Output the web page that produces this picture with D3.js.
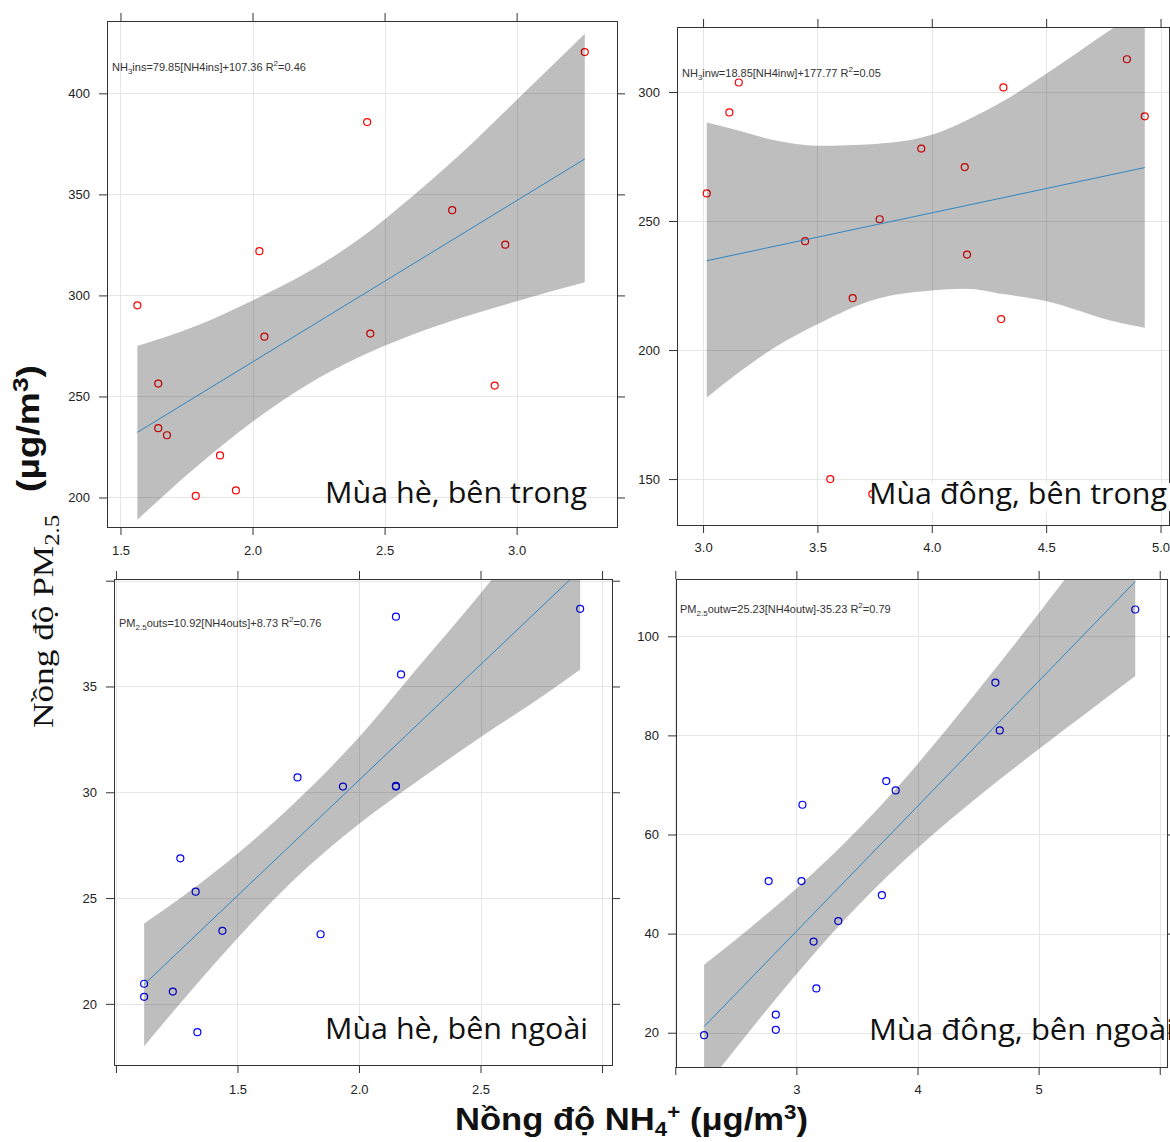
<!DOCTYPE html>
<html>
<head>
<meta charset="utf-8">
<script src="https://d3js.org/d3.v7.min.js"></script>
<style>
  body { margin: 0; background: #fff; }
  svg { display: block; }
  .eq { font-family: "Liberation Sans", Arial, sans-serif; font-size: 11px; fill: #333; }
  .season { font-family: "Open Sans", "Noto Sans", sans-serif; font-size: 30px; fill: #111; }
</style>
</head>
<body>
<div id="chart"></div>
<script>
// ---- panel 1 : summer, indoor ----
var p1X = [1.564, 1.643, 1.643, 1.676, 1.877, 1.785, 1.937, 2.026, 2.045, 2.434, 2.446, 2.756, 2.917, 2.957, 3.258];
var p1Y = [295.1, 256.4, 234.3, 230.8, 220.8, 200.8, 203.5, 321.9, 279.6, 385.8, 281.1, 342.2, 255.4, 325.1, 420.4];
var p1Fit = [79.85, 107.36];
var p1BandX  = [1.564, 1.8, 2.0, 2.198, 2.4, 2.6, 2.8, 3.0, 3.258];
var p1BandLo = [189, 216.6, 237.5, 255.1, 269.3, 280.3, 289.3, 297.1, 306.5];
var p1BandHi = [275, 285.6, 297.5, 310.7, 327.5, 348.5, 371.5, 396.7, 429.5];
var p1XLim = [1.449, 3.38], p1YLim = [185.4, 435.8];
var p1XTicks = [1.5, 2.0, 2.5, 3.0], p1XLabels = ["1.5", "2.0", "2.5", "3.0"];
var p1YTicks = [200, 250, 300, 350, 400], p1YLabels = ["200", "250", "300", "350", "400"];

// ---- panel 2 : winter, indoor ----
var p2X = [3.016, 3.115, 3.156, 3.446, 3.654, 3.772, 3.954, 4.144, 4.154, 4.313, 4.303, 4.853, 4.931, 3.556, 3.74];
var p2Y = [260.7, 292.1, 303.7, 242.2, 220.1, 250.7, 278.1, 270.9, 237.0, 301.8, 212.0, 312.7, 290.6, 150.0, 144.2];
var p2Fit = [18.85, 177.77];
var p2BandX  = [3.016, 3.166, 3.313, 3.5, 3.754, 3.999, 4.149, 4.313, 4.497, 4.784, 4.931];
var p2BandLo = [181.6, 192.0, 201.0, 210.0, 219.7, 223.1, 223.8, 221.7, 219.0, 211.4, 208.6];
var p2BandHi = [288.2, 284.8, 281.3, 279.2, 279.9, 283.4, 288.9, 296.5, 306.9, 324.2, 332.8];
var p2XLim = [2.886, 5.037], p2YLim = [132.2, 325.2];
var p2XTicks = [3.0, 3.5, 4.0, 4.5, 5.0], p2XLabels = ["3.0", "3.5", "4.0", "4.5", "5.0"];
var p2YTicks = [150, 200, 250, 300], p2YLabels = ["150", "200", "250", "300"];

// ---- panel 3 : summer, outdoor ----
var p3X = [1.116, 1.116, 1.234, 1.335, 1.265, 1.328, 1.438, 1.747, 1.842, 1.934, 2.152, 2.152, 2.152, 2.173, 2.91];
var p3Y = [20.95, 20.33, 20.58, 18.66, 26.88, 25.30, 23.45, 30.70, 23.29, 30.27, 30.30, 30.27, 38.30, 35.57, 38.67];
var p3Fit = [10.92, 8.73];
var p3BandX  = [1.116, 1.3, 1.5, 1.726, 2.0, 2.25, 2.5, 2.75, 2.91];
var p3BandLo = [18.0, 20.5, 23.1, 25.8, 28.5, 30.6, 32.6, 34.5, 35.8];
var p3BandHi = [23.8, 25.3, 27.1, 29.4, 32.6, 36.0, 39.4, 43.0, 45.2];
var p3XLim = [0.992, 3.041], p3YLim = [17.11, 40.08];
var p3XTicks = [1.0, 1.5, 2.0, 2.5, 3.0], p3XLabels = ["", "1.5", "2.0", "2.5", ""];
var p3YTicks = [20, 25, 30, 35, 40], p3YLabels = ["20", "25", "30", "35", ""];

// ---- panel 4 : winter, outdoor ----
var p4X = [2.238, 2.83, 2.83, 2.771, 3.042, 3.05, 3.142, 3.165, 3.346, 3.706, 3.742, 3.82, 4.643, 4.679, 5.798];
var p4Y = [19.5, 23.65, 20.58, 50.6, 50.6, 66.0, 38.4, 28.94, 42.53, 47.75, 70.78, 68.9, 90.66, 81.0, 105.4];
var p4Fit = [25.23, -35.23];
var p4BandX  = [2.238, 2.6, 3.0, 3.52, 4.0, 4.5, 5.0, 5.4, 5.798];
var p4BandLo = [8.7, 19.9, 31.8, 45.9, 57.2, 67.6, 77.2, 84.6, 92.0];
var p4BandHi = [33.7, 40.8, 49.1, 61.3, 74.2, 89.1, 104.6, 117.4, 130.2];
var p4XLim = [2.006, 6.06], p4YLim = [13.08, 111.56];
var p4XTicks = [2, 3, 4, 5, 6], p4XLabels = ["", "3", "4", "5", ""];
var p4YTicks = [20, 40, 60, 80, 100], p4YLabels = ["20", "40", "60", "80", "100"];

var svg = d3.select("#chart").append("svg")
    .attr("width", 1170)
    .attr("height", 1142);

function drawPanel(p) {
    var x = d3.scaleLinear().domain(p.xLim).range([p.left, p.right]);
    var y = d3.scaleLinear().domain(p.yLim).range([p.bottom, p.top]);
    var g = svg.append("g");

    svg.append("clipPath").attr("id", "clip" + p.id)
        .append("rect")
        .attr("x", p.left).attr("y", p.top)
        .attr("width", p.right - p.left).attr("height", p.bottom - p.top);

    // grid
    g.selectAll(".gx").data(p.xTicks).enter().append("line")
        .attr("x1", function(d){ return Math.round(x(d)) + 0.5; })
        .attr("x2", function(d){ return Math.round(x(d)) + 0.5; })
        .attr("y1", p.top).attr("y2", p.bottom)
        .style("stroke", "#e6e6e6");
    g.selectAll(".gy").data(p.yTicks).enter().append("line")
        .attr("y1", function(d){ return Math.round(y(d)) + 0.5; })
        .attr("y2", function(d){ return Math.round(y(d)) + 0.5; })
        .attr("x1", p.left).attr("x2", p.right)
        .style("stroke", "#e6e6e6");

    var inner = g.append("g").attr("clip-path", "url(#clip" + p.id + ")");

    // points (under the band, so they darken inside it)
    inner.selectAll("circle").data(p.xs).enter().append("circle")
        .attr("cx", function(d){ return x(d); })
        .attr("cy", function(d, i){ return y(p.ys[i]); })
        .attr("r", 3.5)
        .style("fill", "none")
        .style("stroke", p.color)
        .style("stroke-width", 1.2);

    var band = p.bandX.map(function(d, i){ return {x: d, lo: p.bandLo[i], hi: p.bandHi[i]}; });
    inner.append("path").datum(band)
        .attr("d", d3.area()
            .x(function(d){ return x(d.x); })
            .y0(function(d){ return y(d.lo); })
            .y1(function(d){ return y(d.hi); })
            .curve(d3.curveMonotoneX))
        .style("fill", "#000")
        .style("fill-opacity", 0.255);

    var ext = d3.extent(p.xs);
    inner.append("line")
        .attr("x1", x(ext[0])).attr("y1", y(p.fit[0] * ext[0] + p.fit[1]))
        .attr("x2", x(ext[1])).attr("y2", y(p.fit[0] * ext[1] + p.fit[1]))
        .style("stroke", "#2f86c4")
        .style("stroke-width", 1);

    // axes, ticks on all four sides
    function style(a) {
        a.select(".domain").remove();
        a.style("color", "#333");
        a.selectAll("text")
            .style("font-family", "'Liberation Sans', Arial, sans-serif")
            .style("font-size", "13px")
            .style("fill", "#222");
    }
    svg.append("g").attr("transform", "translate(" + p.left + ",0)")
        .call(d3.axisLeft(y).tickValues(p.yTicks).tickSize(8).tickPadding(9)
            .tickFormat(function(d, i){ return p.yLabels[i]; }))
        .call(style);
    svg.append("g").attr("transform", "translate(" + p.right + ",0)")
        .call(d3.axisRight(y).tickValues(p.yTicks).tickSize(8).tickFormat(""))
        .call(style);
    svg.append("g").attr("transform", "translate(0," + p.bottom + ")")
        .call(d3.axisBottom(x).tickValues(p.xTicks).tickSize(8).tickPadding(p.xPad)
            .tickFormat(function(d, i){ return p.xLabels[i]; }))
        .call(style);
    svg.append("g").attr("transform", "translate(0," + p.top + ")")
        .call(d3.axisTop(x).tickValues(p.xTicks).tickSize(8).tickFormat(""))
        .call(style);

    g.append("rect")
        .attr("x", p.left + 0.5).attr("y", p.top + 0.5)
        .attr("width", p.right - p.left).attr("height", p.bottom - p.top)
        .style("fill", "none").style("stroke", "#333").style("stroke-width", 1);

    // equation
    var eq = svg.append("text").attr("class", "eq").attr("x", p.eqX).attr("y", p.eqY);
    p.eq.forEach(function(s) {
        var t = eq.append("tspan").text(s[0]);
        if (s[1] == "sub") t.attr("dy", 3).style("font-size", "8px");
        if (s[1] == "sup") t.attr("dy", -5).style("font-size", "8px");
        if (s[1] == "back") t.attr("dy", -3);
        if (s[1] == "down") t.attr("dy", 5);
    });

    if (p.mask) {
        svg.append("rect").attr("x", p.mask[0]).attr("y", p.mask[1])
            .attr("width", p.mask[2]).attr("height", p.mask[3]).style("fill", "#fff");
    }
    svg.append("text").attr("class", "season")
        .attr("x", p.sX).attr("y", p.sY)
        .attr("textLength", p.sLen).attr("lengthAdjust", "spacingAndGlyphs")
        .text(p.season);
}

drawPanel({id: 1, left: 107, right: 617, top: 21, bottom: 527, xLim: p1XLim, yLim: p1YLim,
    xs: p1X, ys: p1Y, fit: p1Fit, bandX: p1BandX, bandLo: p1BandLo, bandHi: p1BandHi,
    xTicks: p1XTicks, xLabels: p1XLabels, yTicks: p1YTicks, yLabels: p1YLabels, xPad: 11,
    color: "#ff0000",
    eq: [["NH"], ["3", "sub"], ["ins=79.85[NH4ins]+107.36 R", "back"], ["2", "sup"], ["=0.46", "down"]],
    eqX: 112, eqY: 71,
    season: "Mùa hè, bên trong", sX: 325, sY: 503, sLen: 262});

drawPanel({id: 2, left: 677, right: 1169, top: 27, bottom: 525, xLim: p2XLim, yLim: p2YLim,
    xs: p2X, ys: p2Y, fit: p2Fit, bandX: p2BandX, bandLo: p2BandLo, bandHi: p2BandHi,
    xTicks: p2XTicks, xLabels: p2XLabels, yTicks: p2YTicks, yLabels: p2YLabels, xPad: 10,
    color: "#ff0000",
    eq: [["NH"], ["3", "sub"], ["inw=18.85[NH4inw]+177.77 R", "back"], ["2", "sup"], ["=0.05", "down"]],
    eqX: 682, eqY: 77,
    mask: [872, 483, 298, 28],
    season: "Mùa đông, bên trong", sX: 869, sY: 504, sLen: 298});

drawPanel({id: 3, left: 114, right: 612, top: 579, bottom: 1065, xLim: p3XLim, yLim: p3YLim,
    xs: p3X, ys: p3Y, fit: p3Fit, bandX: p3BandX, bandLo: p3BandLo, bandHi: p3BandHi,
    xTicks: p3XTicks, xLabels: p3XLabels, yTicks: p3YTicks, yLabels: p3YLabels, xPad: 12,
    color: "#0000ff",
    eq: [["PM"], ["2.5", "sub"], ["outs=10.92[NH4outs]+8.73 R", "back"], ["2", "sup"], ["=0.76", "down"]],
    eqX: 119, eqY: 627,
    season: "Mùa hè, bên ngoài", sX: 325, sY: 1039, sLen: 263});

drawPanel({id: 4, left: 676, right: 1167, top: 579, bottom: 1067, xLim: p4XLim, yLim: p4YLim,
    xs: p4X, ys: p4Y, fit: p4Fit, bandX: p4BandX, bandLo: p4BandLo, bandHi: p4BandHi,
    xTicks: p4XTicks, xLabels: p4XLabels, yTicks: p4YTicks, yLabels: p4YLabels, xPad: 10,
    color: "#0000ff",
    eq: [["PM"], ["2.5", "sub"], ["outw=25.23[NH4outw]-35.23 R", "back"], ["2", "sup"], ["=0.79", "down"]],
    eqX: 680, eqY: 613,
    season: "Mùa đông, bên ngoài", sX: 869, sY: 1040, sLen: 305});

// y title
var yt = svg.append("text")
    .attr("transform", "translate(53,728) rotate(-90)")
    .attr("textLength", 213).attr("lengthAdjust", "spacingAndGlyphs")
    .style("font-family", "'Liberation Serif', 'Times New Roman', serif")
    .style("font-size", "30px").style("fill", "#111");
yt.append("tspan").text("Nồng độ PM");
yt.append("tspan").text("2.5").attr("dy", 6).style("font-size", "21px");

var yt2 = svg.append("text")
    .attr("transform", "translate(39,492) rotate(-90)")
    .attr("textLength", 127).attr("lengthAdjust", "spacingAndGlyphs")
    .style("font-family", "'Liberation Sans', Arial, sans-serif")
    .style("font-weight", "bold")
    .style("font-size", "31px").style("fill", "#111");
yt2.append("tspan").text("(µg/m");
yt2.append("tspan").text("3").attr("dy", -11).style("font-size", "22px");
yt2.append("tspan").text(")").attr("dy", 11);

// x title
var xt = svg.append("text")
    .attr("x", 455).attr("y", 1130)
    .attr("textLength", 353).attr("lengthAdjust", "spacingAndGlyphs")
    .style("font-family", "'Liberation Sans', Arial, sans-serif")
    .style("font-weight", "bold")
    .style("font-size", "31px").style("fill", "#111");
xt.append("tspan").text("Nồng độ NH");
xt.append("tspan").text("4").attr("dy", 6).style("font-size", "20px");
xt.append("tspan").text("+").attr("dy", -17).style("font-size", "20px");
xt.append("tspan").text(" (μg/m").attr("dy", 11);
xt.append("tspan").text("3").attr("dy", -11).style("font-size", "20px");
xt.append("tspan").text(")").attr("dy", 11);
</script>
</body>
</html>
